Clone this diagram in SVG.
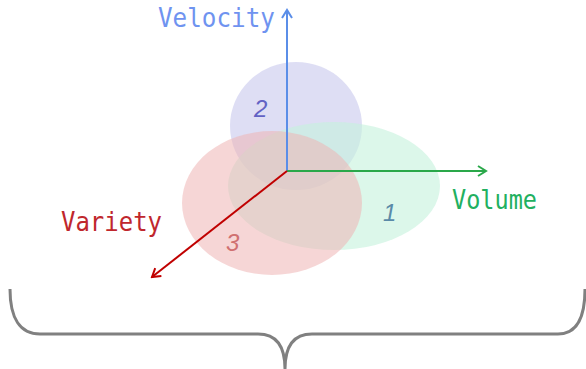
<svg xmlns="http://www.w3.org/2000/svg" width="586" height="369" viewBox="0 0 586 369">
<style>
.lbl{font-family:"DejaVu Sans Mono","Liberation Mono",monospace;font-size:27px}
.num{font-family:"Liberation Sans",Arial,sans-serif;font-size:24px;font-style:italic}
.ax{fill:none;stroke-width:2}
</style>
<defs>
<marker id="aB" markerWidth="12" markerHeight="12" refX="10" refY="6" orient="auto" markerUnits="userSpaceOnUse"><path d="M2,1 L10,6 L2,11" fill="none" stroke="#5b8ee8" stroke-width="2"/></marker>
<marker id="aG" markerWidth="12" markerHeight="12" refX="10" refY="6" orient="auto" markerUnits="userSpaceOnUse"><path d="M2,1 L10,6 L2,11" fill="none" stroke="#2aa84a" stroke-width="2"/></marker>
<marker id="aR" markerWidth="12" markerHeight="12" refX="10" refY="6" orient="auto" markerUnits="userSpaceOnUse"><path d="M2,1 L10,6 L2,11" fill="none" stroke="#c00000" stroke-width="2"/></marker>
</defs>
<rect width="586" height="369" fill="#ffffff"/>
<g id="set-velocity"><ellipse cx="296" cy="126" rx="66" ry="64" fill="#c8c8ec" fill-opacity="0.6"/></g>
<g id="set-volume"><ellipse cx="334" cy="186" rx="106" ry="64" fill="#c4f2dc" fill-opacity="0.6"/></g>
<g id="set-variety"><ellipse cx="272" cy="203" rx="90" ry="72" fill="#eeb4b4" fill-opacity="0.55"/></g>
<g id="connectors">
<line class="ax" x1="287" y1="171" x2="287" y2="10" stroke="#5b8ee8" marker-end="url(#aB)"/>
<line class="ax" x1="287" y1="171" x2="486" y2="171" stroke="#2aa84a" marker-end="url(#aG)"/>
<line class="ax" x1="287" y1="171" x2="152" y2="277" stroke="#c00000" marker-end="url(#aR)"/>
</g>
<g id="labels">
<text class="lbl" x="158" y="27" fill="#6f93f0" textLength="117" lengthAdjust="spacingAndGlyphs">Velocity</text>
<text class="lbl" x="452" y="209" fill="#22b060" textLength="85" lengthAdjust="spacingAndGlyphs">Volume</text>
<text class="lbl" x="61" y="231" fill="#c0272d" textLength="101" lengthAdjust="spacingAndGlyphs">Variety</text>
<text class="num" x="254" y="117" fill="#6262c4">2</text>
<text class="num" x="383" y="221" fill="#5a8aa8">1</text>
<text class="num" x="226" y="251" fill="#d07070">3</text>
</g>
<g id="brace"><path d="M10,289 C10,318 20,334 40,334 L258,334 C276,334 285,346 285,369 C285,346 294,334 312,334 L558,334 C576,334 585,318 585,289" fill="none" stroke="#808080" stroke-width="3"/></g>
</svg>
